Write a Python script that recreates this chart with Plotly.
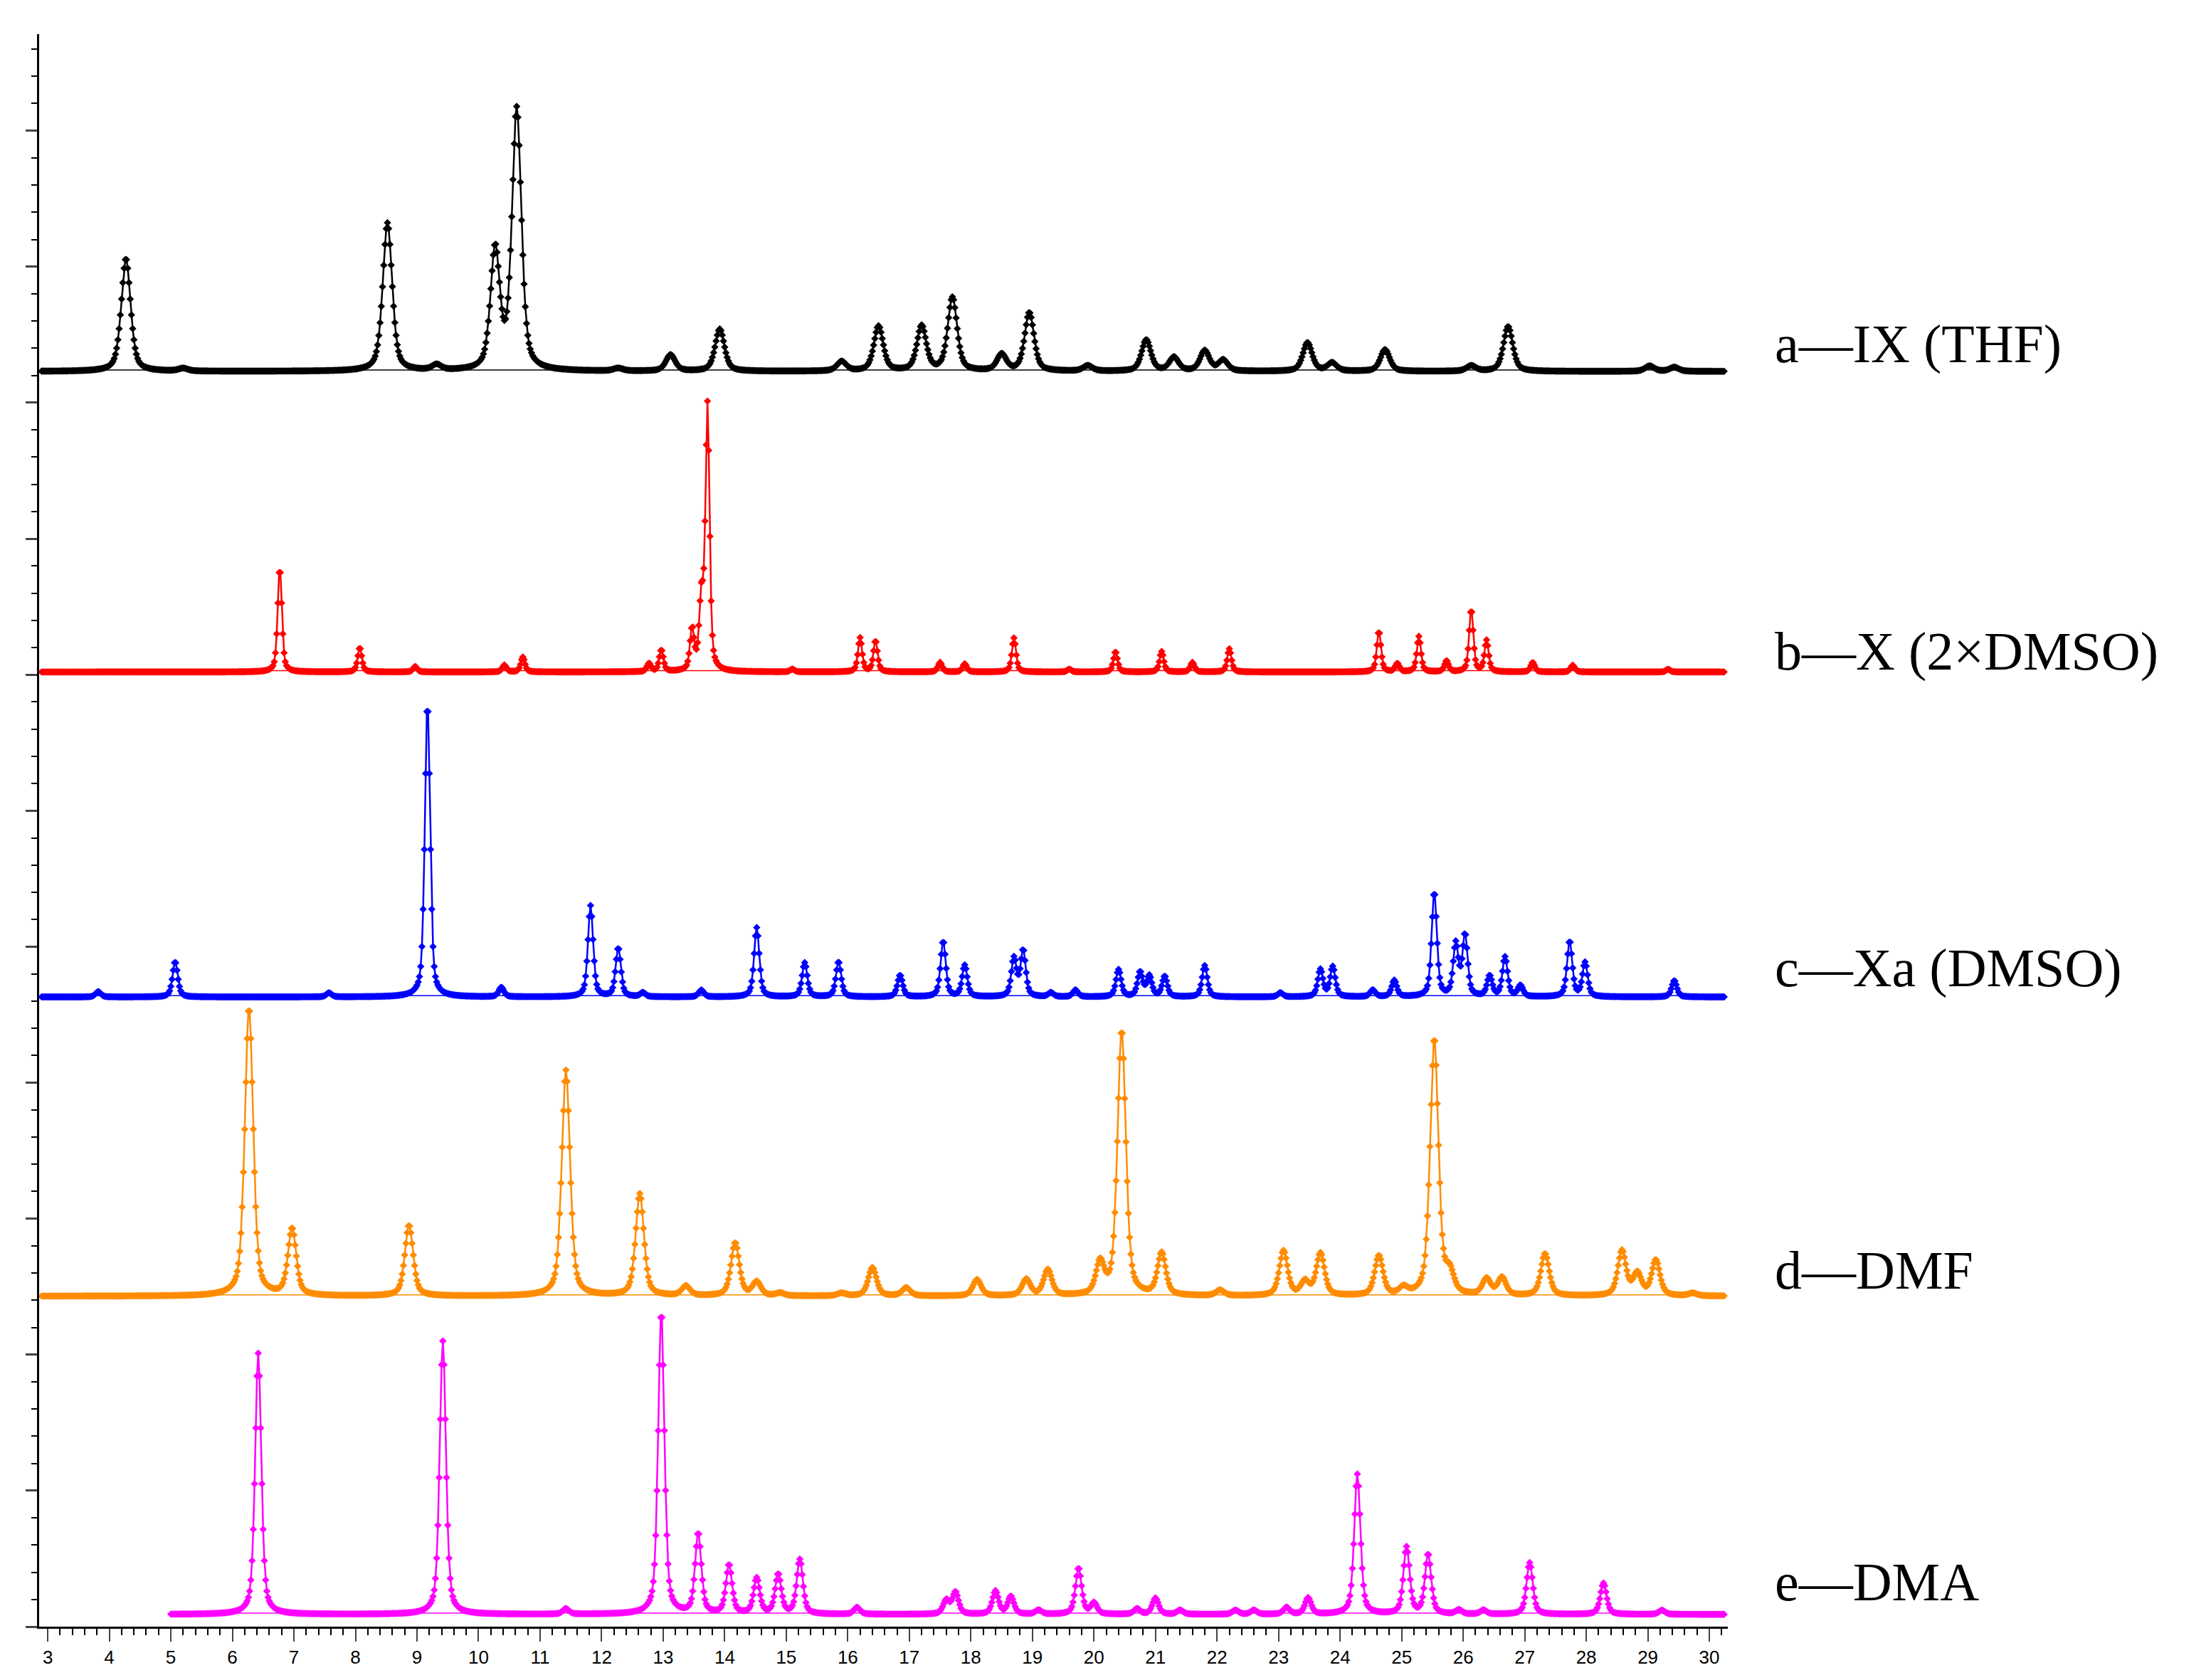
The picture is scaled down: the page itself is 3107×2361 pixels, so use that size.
import numpy as np
import plotly.graph_objects as go

# Peak tables: position (2θ), height (axis units above baseline)
a_pos = [4.27, 5.2, 8.52, 9.32, 10.27, 10.62, 12.27, 13.12, 13.92, 15.9, 16.5, 17.2, 17.7, 18.5, 18.95, 19.9, 20.85, 21.3, 21.8, 22.1, 23.47, 23.87, 24.73, 26.13, 26.73, 29.03, 29.43]
a_h   = [0.83, 0.02, 1.09, 0.04, 0.88, 1.92, 0.02, 0.12, 0.31, 0.07, 0.33, 0.33, 0.54, 0.12, 0.43, 0.04, 0.23, 0.10, 0.15, 0.08, 0.21, 0.06, 0.16, 0.04, 0.33, 0.04, 0.03]
b_pos = [6.77, 8.07, 8.97, 10.42, 10.72, 12.77, 12.97, 13.47, 13.62, 13.72, 15.1, 16.2, 16.45, 17.5, 17.9, 18.7, 19.6, 20.35, 21.1, 21.6, 22.2, 24.63, 24.93, 25.28, 25.73, 26.13, 26.38, 27.13, 27.78, 29.33]
b_h   = [0.77, 0.18, 0.04, 0.05, 0.11, 0.06, 0.16, 0.30, 0.5, 1.95, 0.02, 0.25, 0.23, 0.07, 0.06, 0.25, 0.02, 0.15, 0.15, 0.07, 0.17, 0.30, 0.06, 0.26, 0.08, 0.46, 0.23, 0.07, 0.05, 0.02]
c_pos = [3.82, 5.07, 7.57, 9.17, 10.37, 11.82, 12.27, 12.67, 13.62, 14.52, 15.3, 15.85, 16.85, 17.55, 17.9, 18.7, 18.85, 19.3, 19.7, 20.4, 20.75, 20.9, 21.15, 21.8, 23.03, 23.68, 23.88, 24.53, 24.88, 25.53, 25.88, 26.03, 26.43, 26.68, 26.93, 27.73, 27.98, 29.43]
c_h   = [0.04, 0.26, 0.03, 2.17, 0.07, 0.67, 0.36, 0.03, 0.05, 0.51, 0.25, 0.26, 0.16, 0.41, 0.23, 0.28, 0.34, 0.03, 0.05, 0.20, 0.18, 0.15, 0.15, 0.23, 0.03, 0.20, 0.22, 0.05, 0.12, 0.77, 0.38, 0.45, 0.15, 0.29, 0.08, 0.41, 0.25, 0.12]
d_pos = [6.27, 6.97, 8.87, 11.42, 12.62, 13.37, 14.17, 14.52, 14.9, 15.9, 16.4, 16.95, 18.1, 18.9, 19.25, 20.1, 20.45, 21.1, 22.05, 23.08, 23.43, 23.68, 24.63, 25.03, 25.53, 25.78, 26.38, 26.63, 27.33, 28.58, 28.83, 29.13, 29.73]
d_h   = [2.12, 0.49, 0.52, 1.66, 0.75, 0.07, 0.39, 0.10, 0.02, 0.02, 0.21, 0.06, 0.12, 0.12, 0.19, 0.23, 1.95, 0.31, 0.04, 0.33, 0.10, 0.31, 0.29, 0.05, 1.89, 0.15, 0.12, 0.13, 0.31, 0.33, 0.16, 0.26, 0.02]
e_pos = [6.42, 9.42, 11.42, 12.97, 13.57, 14.07, 14.52, 14.87, 15.22, 16.15, 17.6, 17.75, 18.4, 18.65, 19.1, 19.75, 20.0, 20.7, 21.0, 21.4, 22.3, 22.6, 23.13, 23.48, 24.28, 25.08, 25.43, 25.93, 26.33, 27.08, 28.28, 29.23]
e_h   = [1.92, 2.01, 0.04, 2.23, 0.59, 0.36, 0.26, 0.29, 0.40, 0.05, 0.10, 0.16, 0.17, 0.13, 0.03, 0.34, 0.08, 0.04, 0.12, 0.03, 0.03, 0.03, 0.05, 0.12, 1.03, 0.49, 0.44, 0.03, 0.03, 0.38, 0.23, 0.03]

labels = ["a\u2014IX (THF)", "b\u2014X (2\u00d7DMSO)", "c\u2014Xa (DMSO)", "d\u2014DMF", "e\u2014DMA"]
colors = ["#000000", "#ff0000", "#0000ff", "#ff8c00", "#ff00ff"]
baselines = [9.24, 7.03, 4.64, 2.44, 0.10]
fwhm = [0.18, 0.08, 0.10, 0.16, 0.12]
x_start = [2.9, 2.9, 2.9, 2.9, 5.0]
x_end = 30.25
label_y = [9.43, 7.17, 4.84, 2.62, 0.33]

patterns = [(a_pos, a_h), (b_pos, b_h), (c_pos, c_h), (d_pos, d_h), (e_pos, e_h)]

fig = go.Figure()
for i, (pos, h) in enumerate(patterns):
    x = np.arange(x_start[i], x_end, 0.02)
    y = np.zeros_like(x)
    g = fwhm[i] / 2
    for p, hh in zip(pos, h):
        y += hh * (0.5 / (1 + ((x - p) / g) ** 2) + 0.5 * np.exp(-np.log(2) * ((x - p) / g) ** 2))
    fig.add_trace(go.Scatter(x=[x_start[i], x_end], y=[baselines[i]] * 2, mode="lines",
                             line=dict(color=colors[i], width=1.5), showlegend=False, hoverinfo="skip"))
    fig.add_trace(go.Scatter(x=x, y=y + baselines[i] - 0.01, mode="lines+markers",
                             line=dict(color=colors[i], width=2.5),
                             marker=dict(symbol="diamond", size=8, color=colors[i]),
                             showlegend=False))
    fig.add_annotation(x=1.027, xref="paper", y=label_y[i], yref="y", text=labels[i],
                       showarrow=False, xanchor="left", yanchor="middle",
                       font=dict(family="Liberation Serif, DejaVu Serif", size=76, color="black"))

fig.update_layout(
    width=3107, height=2361, paper_bgcolor="white", plot_bgcolor="white",
    margin=dict(l=47, r=687, t=40, b=83),
)
fig.update_xaxes(range=[2.86, 30.3], tickmode="linear", tick0=3, dtick=1,
                 ticks="outside", ticklen=18, tickwidth=2, showline=True, linewidth=3,
                 linecolor="black", showgrid=False, zeroline=False,
                 tickfont=dict(family="Liberation Sans Narrow, Liberation Sans", size=26, color="black"),
                 minor=dict(dtick=0.2, ticks="outside", ticklen=9, tickwidth=2, tickcolor="black"))
fig.update_yaxes(range=[0, 11.71], tickmode="linear", tick0=0, dtick=1, showticklabels=False,
                 ticks="outside", ticklen=16, tickwidth=3, showline=True, linewidth=3,
                 linecolor="black", showgrid=False, zeroline=False,
                 minor=dict(dtick=0.2, ticks="outside", ticklen=8, tickwidth=2, tickcolor="black"))

fig.write_html("out.html")
